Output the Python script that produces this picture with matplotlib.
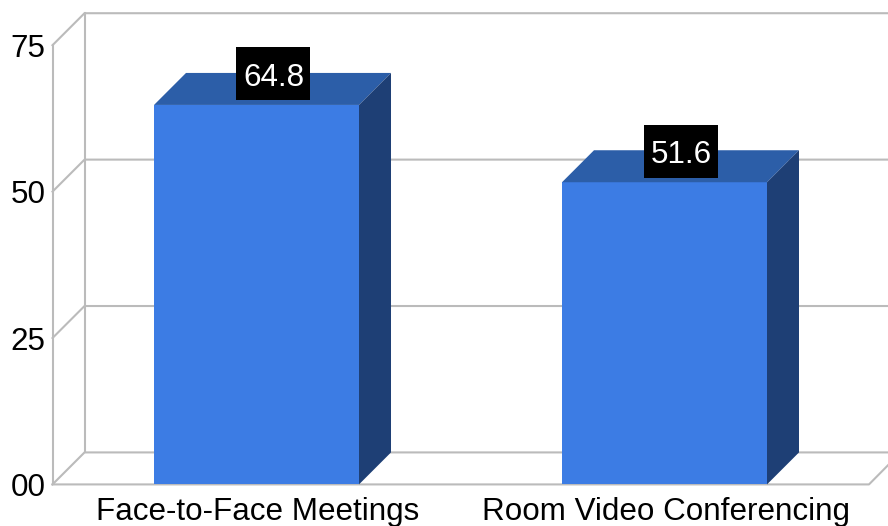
import matplotlib
matplotlib.use('Agg')
import matplotlib.pyplot as plt
from matplotlib.patches import Polygon, Rectangle

categories = ['Face-to-Face Meetings', 'Room Video Conferencing']
values = [64.8, 51.6]
ticks = [0, 25, 50, 75]
tick_labels = ['00', '25', '50', '75']

plt.rcParams['font.family'] = ['Liberation Sans', 'DejaVu Sans']

fig = plt.figure(figsize=(8.88, 5.26), dpi=100)
ax = fig.add_axes([0, 0, 1, 1])
ax.set_xlim(-0.6287, 1.5478)
ax.set_ylim(-7.10, 82.72)
ax.axis('off')

# depth of the fake 3d box, in data units (about 32 px each way)
dx = 32 / 408
dy = 32 / 5.856
bar_w = 205 / 408
x_left = -0.5
x_right = 1.5478
x_floor = 1.5012
grid = '#bbbbbb'
font = 22.6

# back wall and floor
for t in ticks:
    ax.plot([x_left, x_left + dx, x_right], [t, t + dy, t + dy], color=grid, lw=1.5, zorder=1)
ax.plot([x_left, x_left], [0, 75], color=grid, lw=1.5, zorder=1)
ax.plot([x_left + dx, x_left + dx], [dy, 75 + dy], color=grid, lw=1.5, zorder=1)
ax.plot([x_left, x_floor, x_right], [0, 0, dy * 0.6], color=grid, lw=1.5, zorder=1)

for i, v in enumerate(values):
    x0 = i - bar_w / 2
    x1 = i + bar_w / 2
    ax.add_patch(Rectangle((x0, 0), bar_w, v, fc='#3c7ce4', ec='none', zorder=3))
    ax.add_patch(Polygon([(x0, v), (x1, v), (x1 + dx, v + dy), (x0 + dx, v + dy)],
                         fc='#2c5ea8', ec='none', zorder=3))
    ax.add_patch(Polygon([(x1, 0), (x1 + dx, dy), (x1 + dx, v + dy), (x1, v)],
                         fc='#1e3f75', ec='none', zorder=3))
    # black value box
    box_w = 74 / 408
    box_h = 53 / 5.856
    cx = i + 0.0415
    cy = v + 5.3
    ax.add_patch(Rectangle((cx - box_w / 2, cy - box_h / 2), box_w, box_h, fc='black', ec='none', zorder=4))
    ax.text(cx, cy - 0.1, f'{v:.1f}', color='white', fontsize=font, ha='center', va='center_baseline', zorder=5)
    ax.text(i + 0.003, -4.7, categories[i], color='black', fontsize=font, ha='center', va='center')

for t, lab in zip(ticks, tick_labels):
    ax.text(x_left - 7 / 408, t, lab, color='black', fontsize=font, ha='right', va='center_baseline')

fig.savefig('out.png', dpi=100)
